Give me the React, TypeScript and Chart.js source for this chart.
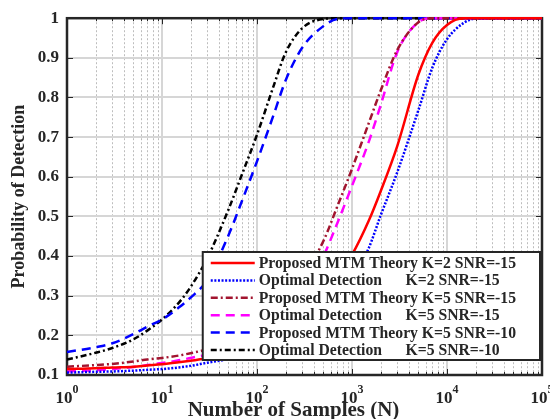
import React, { useEffect, useRef } from "react";
import { Chart, registerables } from "chart.js";

Chart.register(...registerables);

// ---- data ----
const samplesN = [1, 2, 3, 5, 7, 10, 15, 20, 30, 50, 70, 100, 150, 200, 300, 500, 700, 1000, 1500, 2000, 3000, 5000, 7000, 10000, 15000, 20000, 50000, 100000];

const proposedK2Snr15 = [0.115, 0.117, 0.119, 0.121, 0.124, 0.127, 0.132, 0.136, 0.142, 0.152, 0.162, 0.175, 0.195, 0.213, 0.245, 0.3, 0.345, 0.403, 0.489, 0.563, 0.678, 0.858, 0.938, 0.983, 1, 1, 1, 1];
const optimalK2Snr15 = [0.106, 0.108, 0.109, 0.111, 0.113, 0.115, 0.119, 0.123, 0.131, 0.14, 0.148, 0.158, 0.172, 0.185, 0.21, 0.26, 0.295, 0.34, 0.42, 0.502, 0.612, 0.768, 0.875, 0.947, 0.988, 0.999, 1, 1];
const proposedK5Snr15 = [0.121, 0.125, 0.128, 0.134, 0.139, 0.143, 0.149, 0.155, 0.165, 0.185, 0.205, 0.23, 0.26, 0.29, 0.345, 0.438, 0.525, 0.62, 0.735, 0.817, 0.92, 0.99, 1, 1, 1, 1, 1, 1];
const optimalK5Snr15 = [0.109, 0.112, 0.115, 0.12, 0.125, 0.13, 0.137, 0.143, 0.152, 0.17, 0.187, 0.21, 0.245, 0.265, 0.315, 0.4, 0.483, 0.577, 0.688, 0.78, 0.915, 0.99, 1, 1, 1, 1, 1, 1];
const proposedK5Snr10 = [0.158, 0.17, 0.18, 0.203, 0.222, 0.24, 0.27, 0.295, 0.34, 0.452, 0.541, 0.639, 0.757, 0.843, 0.926, 0.98, 0.998, 1, 1, 1, 1, 1, 1, 1, 1, 1, 1, 1];
const optimalK5Snr10 = [0.139, 0.156, 0.168, 0.19, 0.212, 0.24, 0.282, 0.322, 0.395, 0.517, 0.608, 0.706, 0.83, 0.913, 0.975, 0.998, 1, 1, 1, 1, 1, 1, 1, 1, 1, 1, 1, 1];

const seriesLabels = [
  "Proposed MTM Theory K=2 SNR=-15",
  "Optimal Detection      K=2 SNR=-15",
  "Proposed MTM Theory K=5 SNR=-15",
  "Optimal Detection      K=5 SNR=-15",
  "Proposed MTM Theory K=5 SNR=-10",
  "Optimal Detection      K=5 SNR=-10",
];

const yTickValues = [0.1, 0.2, 0.3, 0.4, 0.5, 0.6, 0.7, 0.8, 0.9, 1];
const yTickLabels = ["0.1", "0.2", "0.3", "0.4", "0.5", "0.6", "0.7", "0.8", "0.9", "1"];
const xTickBase = "10";
const xTickExponents = ["0", "1", "2", "3", "4", "5"];
const xAxisTitle = "Number of Samples (N)";
const yAxisTitle = "Probability of Detection";

const FONT = '"Liberation Serif", "Times New Roman", serif';
const INK = "#262626";

const styles = [
  { color: "#FF0000", dash: [] as number[] },
  { color: "#0000FF", dash: [2, 1.6] },
  { color: "#A2142F", dash: [7, 3, 2, 3] },
  { color: "#FF00FF", dash: [9, 6] },
  { color: "#0000FF", dash: [9, 6] },
  { color: "#000000", dash: [6, 3, 2, 3] },
];

const allSeries = [proposedK2Snr15, optimalK2Snr15, proposedK5Snr15, optimalK5Snr15, proposedK5Snr10, optimalK5Snr10];

const decorPlugin = {
  id: "decor",
  beforeDatasetsDraw(chart: any) {
    const { ctx, chartArea: a, scales } = chart;
    const xs = scales.x;
    const ys = scales.y;
    ctx.save();
    // minor x grid (dotted)
    ctx.strokeStyle = "#bdbdbd";
    ctx.lineWidth = 1;
    ctx.setLineDash([2, 2]);
    for (let e = 0; e < xTickExponents.length - 1; e++) {
      for (let m = 2; m <= 9; m++) {
        const px = Math.round(xs.getPixelForValue(m * Math.pow(10, e))) + 0.5;
        ctx.beginPath();
        ctx.moveTo(px, a.top);
        ctx.lineTo(px, a.bottom);
        ctx.stroke();
      }
    }
    // major grid
    ctx.setLineDash([]);
    ctx.strokeStyle = "#d6d6d6";
    ctx.lineWidth = 2;
    for (let e = 0; e < xTickExponents.length; e++) {
      const px = Math.round(xs.getPixelForValue(Math.pow(10, e)));
      ctx.beginPath();
      ctx.moveTo(px, a.top);
      ctx.lineTo(px, a.bottom);
      ctx.stroke();
    }
    for (const v of yTickValues) {
      const py = Math.round(ys.getPixelForValue(v));
      ctx.beginPath();
      ctx.moveTo(a.left, py);
      ctx.lineTo(a.right, py);
      ctx.stroke();
    }
    // ticks (inward)
    ctx.strokeStyle = INK;
    ctx.lineWidth = 1;
    for (let e = 0; e < xTickExponents.length; e++) {
      for (let m = 1; m <= 9; m++) {
        const val = m * Math.pow(10, e);
        if (val > 100000) break;
        const px = Math.round(xs.getPixelForValue(val)) + 0.5;
        const len = m === 1 ? 6 : 3;
        ctx.beginPath();
        ctx.moveTo(px, a.bottom);
        ctx.lineTo(px, a.bottom - len);
        ctx.moveTo(px, a.top);
        ctx.lineTo(px, a.top + len);
        ctx.stroke();
      }
    }
    for (const v of yTickValues) {
      const py = Math.round(ys.getPixelForValue(v)) + 0.5;
      ctx.beginPath();
      ctx.moveTo(a.left, py);
      ctx.lineTo(a.left + 6, py);
      ctx.moveTo(a.right, py);
      ctx.lineTo(a.right - 6, py);
      ctx.stroke();
    }
    // box
    ctx.lineWidth = 2.5;
    ctx.strokeRect(a.left, a.top, a.right - a.left, a.bottom - a.top);
    ctx.restore();
  },
  afterDraw(chart: any) {
    const { ctx, chartArea: a, scales } = chart;
    const xs = scales.x;
    ctx.save();
    // x tick labels 10^e
    ctx.fillStyle = INK;
    ctx.textBaseline = "alphabetic";
    ctx.textAlign = "left";
    xTickExponents.forEach((ex, e) => {
      const px = xs.getPixelForValue(Math.pow(10, e));
      ctx.font = `bold 17px ${FONT}`;
      const bw = ctx.measureText(xTickBase).width;
      ctx.font = `bold 12px ${FONT}`;
      const ew = ctx.measureText(ex).width;
      const start = px - (bw + ew) / 2;
      ctx.font = `bold 17px ${FONT}`;
      ctx.fillText(xTickBase, start, 403);
      ctx.font = `bold 12px ${FONT}`;
      ctx.fillText(ex, start + bw, 393);
    });
    // x axis title
    ctx.font = `bold 21px ${FONT}`;
    ctx.textAlign = "center";
    ctx.fillText(xAxisTitle, (a.left + a.right) / 2 - 11, 416);

    // legend
    const datasets = chart.data.datasets;
    ctx.font = `bold 15.7px ${FONT}`;
    const maxW = Math.max(...datasets.map((d: any) => ctx.measureText(d.label).width));
    const right = a.right - 2;
    const bottom = a.bottom - 15;
    const rowH = 17.4;
    const height = 108;
    const width = 56 + maxW + 24;
    const left = right - width;
    const top = bottom - height;
    ctx.fillStyle = "#ffffff";
    ctx.fillRect(left, top, width, height);
    ctx.strokeStyle = INK;
    ctx.lineWidth = 2;
    ctx.strokeRect(left, top, width, height);
    datasets.forEach((d: any, i: number) => {
      const cy = top + 11 + i * rowH;
      ctx.strokeStyle = d.borderColor;
      ctx.lineWidth = d.borderWidth;
      ctx.setLineDash(d.borderDash || []);
      ctx.beginPath();
      ctx.moveTo(left + 8, cy);
      ctx.lineTo(left + 52, cy);
      ctx.stroke();
      ctx.setLineDash([]);
      ctx.fillStyle = INK;
      ctx.textAlign = "left";
      ctx.textBaseline = "middle";
      ctx.fillText(d.label, left + 56, cy + 1);
    });
    ctx.restore();
  },
};

export default function App() {
  const canvasRef = useRef<HTMLCanvasElement | null>(null);

  useEffect(() => {
    const canvas = canvasRef.current;
    if (!canvas) return;
    const datasets = allSeries.map((vals, i) => ({
      label: seriesLabels[i],
      data: samplesN.map((n, j) => ({ x: n, y: vals[j] })),
      borderColor: styles[i].color,
      backgroundColor: styles[i].color,
      borderDash: styles[i].dash,
      borderWidth: 2.5,
      pointRadius: 0,
      fill: false,
      cubicInterpolationMode: "monotone" as const,
      clip: 3,
    }));
    const chart = new Chart(canvas, {
      type: "line",
      data: { datasets },
      options: {
        animation: false,
        responsive: false,
        devicePixelRatio: 1,
        layout: { padding: { top: 14, right: 8, bottom: 0, left: 0 } },
        plugins: { legend: { display: false }, tooltip: { enabled: false } },
        scales: {
          x: {
            type: "logarithmic",
            min: 1,
            max: 100000,
            ticks: { display: false },
            grid: { display: false },
            border: { display: false },
            afterFit: (s: any) => {
              s.height = 44;
            },
          },
          y: {
            type: "linear",
            min: 0.1,
            max: 1,
            afterBuildTicks: (s: any) => {
              s.ticks = yTickValues.map((v) => ({ value: v }));
            },
            ticks: {
              callback: (_v: any, i: number) => yTickLabels[i],
              font: { family: FONT, size: 17, weight: "bold" },
              color: INK,
              padding: 8,
              autoSkip: false,
            },
            grid: { display: false, drawTicks: false },
            border: { display: false },
            title: {
              display: true,
              text: yAxisTitle,
              font: { family: FONT, size: 18, weight: "bold" },
              color: INK,
              padding: { top: 9, bottom: 0 },
            },
            afterFit: (s: any) => {
              s.width = 67;
            },
          },
        },
      },
      plugins: [decorPlugin],
    });
    return () => chart.destroy();
  }, []);

  return (
    <div style={{ position: "fixed", left: 0, top: 0, width: 550, height: 419, background: "#fff" }}>
      <canvas ref={canvasRef} width={550} height={419} />
    </div>
  );
}
